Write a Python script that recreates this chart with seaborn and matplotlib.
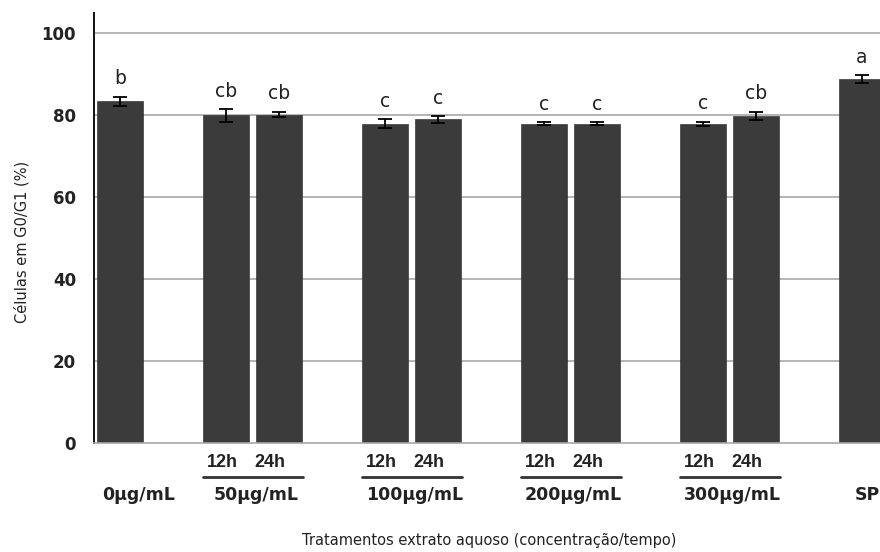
import matplotlib
matplotlib.use("Agg")
import matplotlib.pyplot as plt
import seaborn as sns
import pandas as pd

# ---- data ----
conditions = ["0µg/mL", "50µg/mL 12h", "50µg/mL 24h", "100µg/mL 12h", "100µg/mL 24h",
              "200µg/mL 12h", "200µg/mL 24h", "300µg/mL 12h", "300µg/mL 24h", "SP"]
values = [83.4, 80.0, 80.2, 78.0, 79.0, 78.0, 78.0, 78.0, 79.9, 88.9]
errors = [1.2, 1.6, 0.7, 1.1, 0.8, 0.4, 0.4, 0.5, 1.0, 0.9]
letters = ["b", "cb", "cb", "c", "c", "c", "c", "c", "cb", "a"]
group_labels = ["0µg/mL", "50µg/mL", "100µg/mL", "200µg/mL", "300µg/mL", "SP"]
time_labels = ["12h", "24h"]
y_ticks = [0, 20, 40, 60, 80, 100]

# layout: spacer categories leave the gaps between groups
order = ["0µg/mL", "_g1", "50µg/mL 12h", "50µg/mL 24h", "_g2", "100µg/mL 12h", "100µg/mL 24h",
         "_g3", "200µg/mL 12h", "200µg/mL 24h", "_g4", "300µg/mL 12h", "300µg/mL 24h", "_g5", "SP"]

df = pd.DataFrame({"cond": conditions, "val": values})

sns.set_theme(style="white")
plt.rcParams["font.family"] = ["DejaVu Sans"]

fig = plt.figure(figsize=(8.8, 5.52), dpi=100)
x_left = 94 / 880
ax = fig.add_axes([x_left, 109 / 552, (888.5 - 94) / 880, 430 / 552])

bar_color = "#3b3b3b"
sns.barplot(data=df, x="cond", y="val", order=order, color=bar_color, width=0.87,
            saturation=1, errorbar=None, ax=ax, edgecolor=bar_color, linewidth=0.5)

pos = {c: order.index(c) for c in conditions}
xs = [pos[c] for c in conditions]
ax.errorbar(xs, values, yerr=errors, fmt="none", ecolor="black", elinewidth=1.3,
            capsize=5, capthick=1.3, zorder=5)

for x, v, e, l in zip(xs, values, errors, letters):
    ax.text(x, v + e + 3.0, l, ha="center", va="baseline", fontsize=13.5, color="#222222")

ax.set_xlim(-0.49, 14.5)
ax.set_ylim(0, 105)
ax.set_yticks(y_ticks)
ax.set_yticklabels([str(t) for t in y_ticks], fontsize=12, fontweight="bold", color="#222222")
ax.tick_params(axis="y", length=0, pad=13)
ax.set_xticks([])
ax.set_xlabel("")
ax.set_ylabel("")
for t in y_ticks[1:]:
    ax.axhline(t, color="#a8a8a8", linewidth=1.2, zorder=0)

for s in ["top", "right"]:
    ax.spines[s].set_visible(False)
ax.spines["left"].set_color("#111111")
ax.spines["left"].set_linewidth(1.4)
ax.spines["bottom"].set_color("#a8a8a8")
ax.spines["bottom"].set_linewidth(1.2)

# custom x labels
trans = ax.get_xaxis_transform()
lab_kw = dict(transform=trans, ha="center", va="center", fontweight="bold", color="#222222")
pairs = [(2, 3), (5, 6), (8, 9), (11, 12)]
for (a, b), g in zip(pairs, group_labels[1:5]):
    ax.text(a - 0.06, -0.045, time_labels[0], fontsize=13, family="Liberation Sans", **lab_kw)
    ax.text(b - 0.17, -0.045, time_labels[1], fontsize=13, family="Liberation Sans", **lab_kw)
    ax.plot([a - 0.44, b + 0.45], [-0.078, -0.078], transform=trans, color="#333333",
            linewidth=2, clip_on=False)
    ax.text((a + b) / 2 + 0.06, -0.12, g, fontsize=12.5, **lab_kw)
ax.text(0.36, -0.12, group_labels[0], fontsize=12.5, **lab_kw)
ax.text(14.1, -0.12, group_labels[5], fontsize=12.5, **lab_kw)

fig.text(489 / 880, 1 - 541 / 552, "Tratamentos extrato aquoso (concentração/tempo)",
         ha="center", va="center", fontsize=10.5, color="#222222")
fig.text(22 / 880, 1 - 242 / 552, "Células em G0/G1 (%)", ha="center", va="center",
         rotation=90, fontsize=10.5, color="#222222")

fig.savefig("out.png", dpi=100)
